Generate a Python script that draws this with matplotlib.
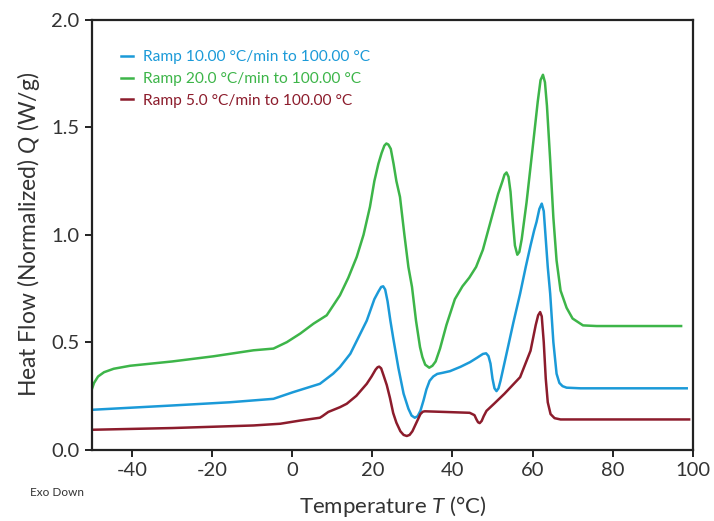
import matplotlib
matplotlib.use("Agg")
import matplotlib.pyplot as plt

plt.rcParams['font.family'] = ['Lato', 'DejaVu Sans']
plt.rcParams['mathtext.fontset'] = 'custom'
plt.rcParams['mathtext.rm'] = 'Lato'
plt.rcParams['mathtext.it'] = 'Lato:italic'

# Ramp 10.00 °C/min (blue)
t_blue = [-50, -30, -15.6, -4.7, 0.2, 6.9, 10.2, 11.9, 14.5, 18.6, 20.5, 21.5, 22.2, 22.7,
          23.2, 23.8, 24.5, 25.2, 26.5, 27.8, 29.0, 29.8, 30.6, 31.3, 32.0, 32.8, 33.5,
          34.3, 35.2, 36.2, 37.5, 39.4, 42.0, 44.4, 46.2, 47.6, 48.4, 49.0, 49.5, 50.0,
          50.5, 51.0, 51.5, 52.0, 53.5, 55.2, 56.9, 58.3, 59.5, 60.4, 61.0, 61.7, 62.3,
          62.8, 63.3, 63.8, 64.4, 65.2, 66.0, 66.7, 67.5, 68.5, 72, 98.5]
q_blue = [0.185, 0.205, 0.22, 0.236, 0.267, 0.306, 0.353, 0.384, 0.446, 0.60, 0.70, 0.735, 0.757, 0.76,
          0.745, 0.69, 0.60, 0.52, 0.38, 0.26, 0.19, 0.158, 0.148, 0.155, 0.18, 0.23, 0.28,
          0.32, 0.34, 0.352, 0.357, 0.365, 0.385, 0.407, 0.428, 0.445, 0.448, 0.435, 0.40, 0.33,
          0.285, 0.272, 0.285, 0.32, 0.446, 0.59, 0.726, 0.85, 0.95, 1.02, 1.06, 1.12, 1.145,
          1.11, 0.98, 0.85, 0.727, 0.50, 0.353, 0.31, 0.295, 0.288, 0.285, 0.285]

# Ramp 20.0 °C/min (green)
t_green = [-50, -49.5, -48.5, -47, -44.6, -40.5, -30, -19.7, -9.7, -4.7, -1.35, 2.0, 5.3,
           8.6, 11.9, 14.0, 16.1, 17.8, 19.4, 20.5, 21.5, 22.3, 23.0, 23.5, 24.0, 24.6,
           25.3, 26.0, 26.9, 28.0, 29.0, 29.9, 30.9, 31.9, 32.5, 33.2, 34.2, 35.0, 35.8,
           36.9, 38.5, 40.6, 42.5, 44.2, 45.9, 47.6, 49.5, 51.4, 52.5, 53.0, 53.5, 54.0,
           54.5, 55.0, 55.6, 56.2, 56.7, 57.3, 58.5, 60.0, 61.3, 62.0, 62.6, 63.1, 63.6,
           64.4, 65.2, 66.0, 67.0, 68.5, 70, 72.6, 76, 97.1]
q_green = [0.283, 0.31, 0.34, 0.36, 0.376, 0.39, 0.41, 0.434, 0.462, 0.47, 0.50, 0.54, 0.586,
           0.625, 0.718, 0.80, 0.897, 1.00, 1.13, 1.25, 1.33, 1.38, 1.415, 1.425, 1.42, 1.40,
           1.33, 1.25, 1.176, 1.0, 0.85, 0.757, 0.60, 0.477, 0.43, 0.395, 0.381, 0.39, 0.41,
           0.47, 0.58, 0.70, 0.76, 0.80, 0.85, 0.93, 1.06, 1.19, 1.25, 1.28, 1.29, 1.27,
           1.20, 1.08, 0.95, 0.907, 0.92, 0.98, 1.15, 1.40, 1.62, 1.72, 1.745, 1.71, 1.60,
           1.35, 1.08, 0.88, 0.74, 0.66, 0.61, 0.578, 0.575, 0.575]

# Ramp 5.0 °C/min (red)
t_red = [-50, -30, -9.7, -3.0, 2.0, 6.9, 7.5, 9.0, 11.9, 13.6, 16.0, 18.6, 19.8, 20.8,
         21.3, 21.7, 22.2, 22.8, 23.6, 24.4, 25.2, 26.0, 27.0, 27.8, 28.6, 29.3, 30.0,
         31.0, 32.0, 32.6, 33.1, 38, 44.3, 45.5, 46.0, 46.4, 46.8, 47.3, 47.8, 48.5,
         50.5, 53, 56.9, 59.5, 60.8, 61.4, 61.9, 62.3, 62.8, 63.3, 63.8, 64.5, 65.5,
         67, 70, 99.1]
q_red = [0.092, 0.10, 0.112, 0.12, 0.135, 0.148, 0.155, 0.175, 0.197, 0.213, 0.25, 0.306, 0.34, 0.372,
         0.383, 0.386, 0.378, 0.345, 0.30, 0.24, 0.17, 0.125, 0.085, 0.068, 0.063, 0.068, 0.085,
         0.125, 0.165, 0.176, 0.178, 0.175, 0.171, 0.16, 0.14, 0.127, 0.123, 0.133, 0.155, 0.18,
         0.215, 0.26, 0.337, 0.46, 0.58, 0.625, 0.64, 0.62, 0.50, 0.33, 0.22, 0.165, 0.146,
         0.14, 0.14, 0.14]

labels = ["Ramp 10.00 °C/min to 100.00 °C",
          "Ramp 20.0 °C/min to 100.00 °C",
          "Ramp 5.0 °C/min to 100.00 °C"]
colors = ["#1b9ad8", "#3db549", "#8c1c2c"]

xticks = [-40, -20, 0, 20, 40, 60, 80, 100]
yticks = [0.0, 0.5, 1.0, 1.5, 2.0]
ytick_labels = ["0.0", "0.5", "1.0", "1.5", "2.0"]

fig = plt.figure(figsize=(7.14, 5.21), dpi=100)
ax = fig.add_axes([0.1289, 0.1372, 0.8413, 0.8244])

ax.plot(t_blue, q_blue, color=colors[0], lw=1.8, label=labels[0], solid_joinstyle='round')
ax.plot(t_green, q_green, color=colors[1], lw=1.8, label=labels[1], solid_joinstyle='round')
ax.plot(t_red, q_red, color=colors[2], lw=1.8, label=labels[2], solid_joinstyle='round')

ax.set_xlim(-50, 100)
ax.set_ylim(0, 2.0)
ax.set_xticks(xticks)
ax.set_xticklabels([str(v) for v in xticks])
ax.set_yticks(yticks)
ax.set_yticklabels(ytick_labels)

for s in ax.spines.values():
    s.set_color("#222222")
    s.set_linewidth(1.6)
ax.tick_params(direction='out', length=5, width=1.4, color="#222222",
               labelsize=14.5, labelcolor="#333333", pad=4)

ax.set_xlabel("Temperature $\\it{T}$ (°C)", fontsize=16, color="#333333", labelpad=11)
ax.set_ylabel("Heat Flow (Normalized) $\\it{Q}$ (W/g)", fontsize=16.5, color="#333333", labelpad=7)

leg = ax.legend(loc='upper left', bbox_to_anchor=(0.025, 0.962), frameon=False,
                handlelength=0.8, handletextpad=0.6, labelspacing=0.5,
                fontsize=11.2, labelcolor='linecolor')

fig.text(0.042, 0.048, "Exo Down", fontsize=8.5, color="#333333")

fig.savefig("out.png", dpi=100)
